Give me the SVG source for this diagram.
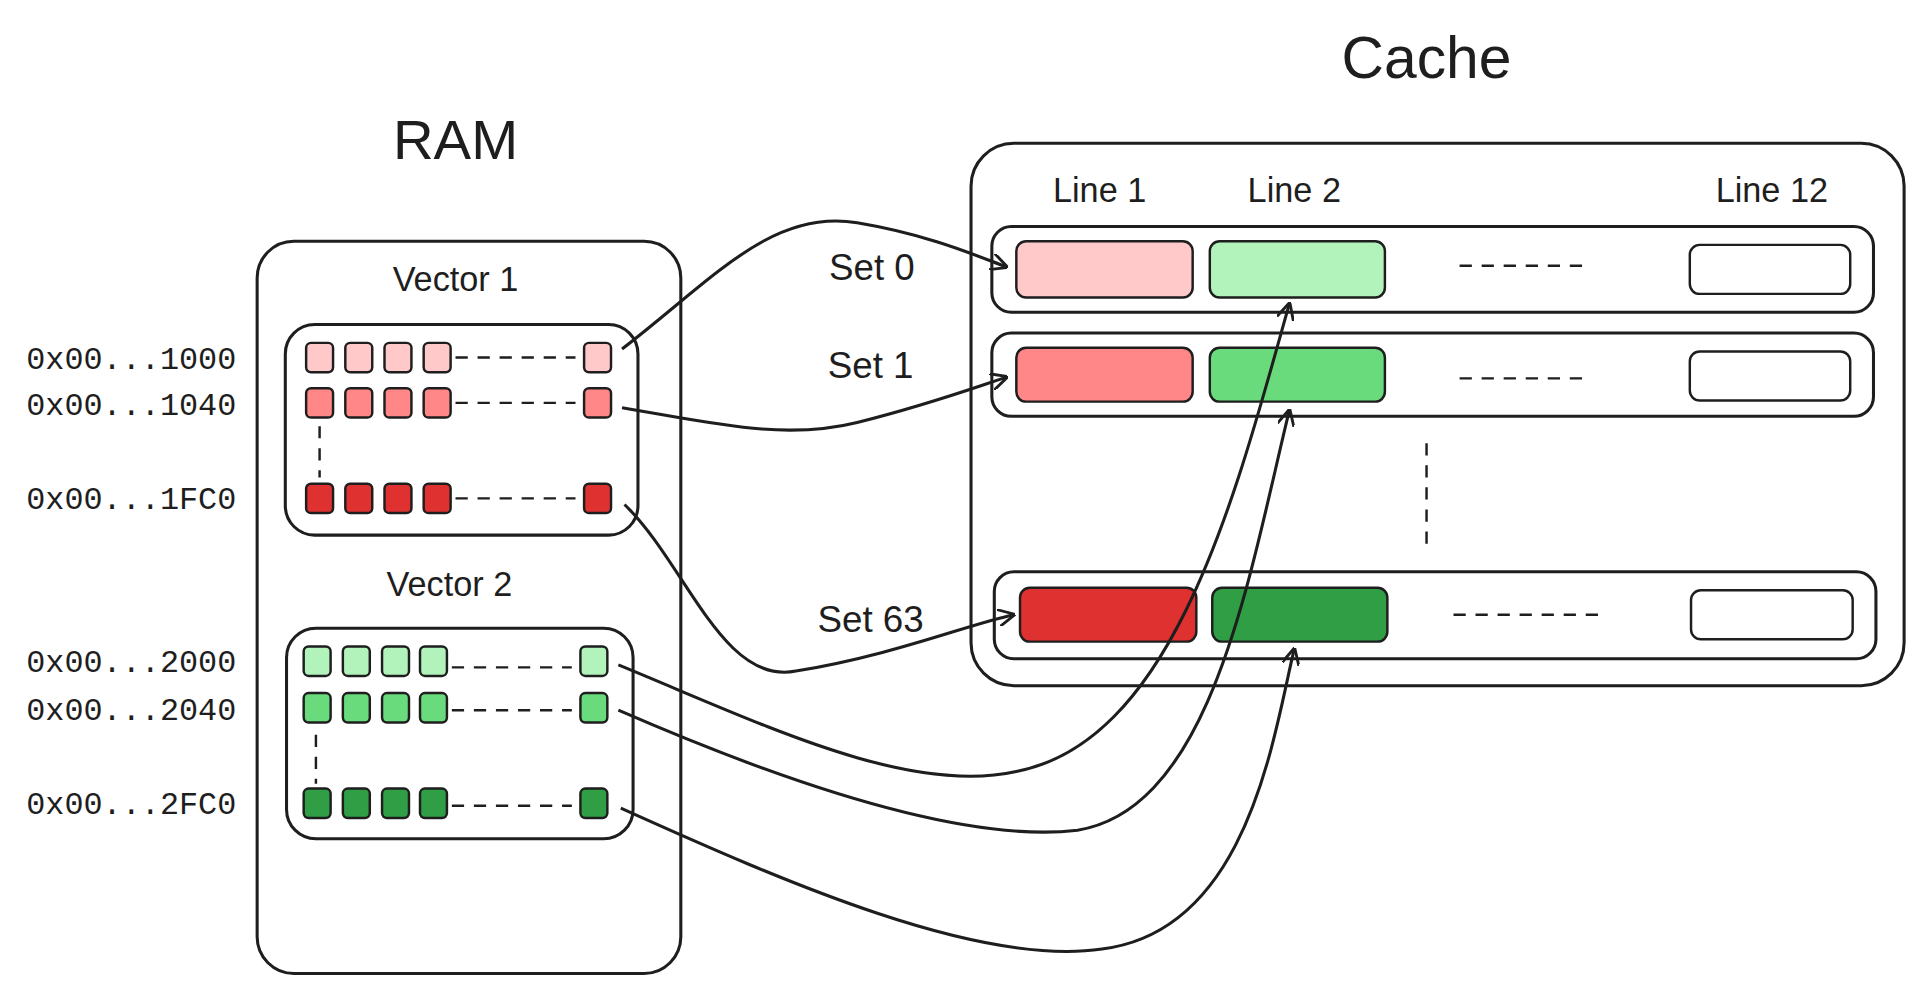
<svg xmlns="http://www.w3.org/2000/svg" width="1920" height="988" viewBox="0 0 1920 988">
<style>
.b{fill:none;stroke:#1e1e1e;stroke-width:2.5}
.t{font-family:"Liberation Sans",sans-serif;fill:#1e1e1e;text-anchor:middle}
.a{font-family:"Liberation Mono",monospace;fill:#1e1e1e;text-anchor:end;font-size:26px}
.c{stroke:#1e1e1e;stroke-width:2}
.d{stroke:#1e1e1e;stroke-width:2;stroke-dasharray:10 8}
.l{fill:none;stroke:#1e1e1e;stroke-width:2.5}
.p1{fill:#ffc9c9}.p2{fill:#ff8787}.p3{fill:#e03131}.g1{fill:#b2f2bb}.g2{fill:#69db7c}.g3{fill:#2f9e44}.w{fill:#fff}
</style>
<defs>
<marker id="ar" viewBox="0 0 12 12" refX="11" refY="6" markerWidth="14" markerHeight="14" markerUnits="userSpaceOnUse" orient="auto"><path d="M0,0 L12,6 L0,12" fill="none" stroke="#1e1e1e" stroke-width="2"/></marker>
<symbol id="sq" overflow="visible"><rect width="22" height="24" rx="4"/></symbol>
</defs>
<g transform="scale(1.2245)">
<rect width="1568" height="807" fill="#fff"/>
<g id="titles">
<text class="t" x="1165" y="64" font-size="48">Cache</text>
<text class="t" x="372" y="130" font-size="46">RAM</text>
</g>
<g id="ram">
<rect class="b" x="210" y="197" width="346" height="598" rx="30"/>
<text class="t" x="372" y="238" font-size="28">Vector 1</text>
<text class="t" x="367" y="487" font-size="28">Vector 2</text>
</g>
<g id="vector1">
<rect class="b" x="233" y="265" width="288" height="172" rx="24"/>
<g class="p1" stroke="#1e1e1e" stroke-width="2"><use href="#sq" x="250" y="280"/><use href="#sq" x="282" y="280"/><use href="#sq" x="314" y="280"/><use href="#sq" x="346" y="280"/><use href="#sq" x="477" y="280"/></g>
<g class="p2" stroke="#1e1e1e" stroke-width="2"><use href="#sq" x="250" y="317"/><use href="#sq" x="282" y="317"/><use href="#sq" x="314" y="317"/><use href="#sq" x="346" y="317"/><use href="#sq" x="477" y="317"/></g>
<g class="p3" stroke="#1e1e1e" stroke-width="2"><use href="#sq" x="250" y="395"/><use href="#sq" x="282" y="395"/><use href="#sq" x="314" y="395"/><use href="#sq" x="346" y="395"/><use href="#sq" x="477" y="395"/></g>
<line class="d" x1="372" y1="292" x2="470" y2="292"/><line class="d" x1="372" y1="329" x2="470" y2="329"/><line class="d" x1="372" y1="407" x2="470" y2="407"/>
<line class="d" x1="261" y1="348" x2="261" y2="390"/>
</g>
<g id="vector2">
<rect class="b" x="234" y="513" width="283" height="172" rx="24"/>
<g class="g1" stroke="#1e1e1e" stroke-width="2"><use href="#sq" x="248" y="528"/><use href="#sq" x="280" y="528"/><use href="#sq" x="312" y="528"/><use href="#sq" x="343" y="528"/><use href="#sq" x="474" y="528"/></g>
<g class="g2" stroke="#1e1e1e" stroke-width="2"><use href="#sq" x="248" y="566"/><use href="#sq" x="280" y="566"/><use href="#sq" x="312" y="566"/><use href="#sq" x="343" y="566"/><use href="#sq" x="474" y="566"/></g>
<g class="g3" stroke="#1e1e1e" stroke-width="2"><use href="#sq" x="248" y="644"/><use href="#sq" x="280" y="644"/><use href="#sq" x="312" y="644"/><use href="#sq" x="343" y="644"/><use href="#sq" x="474" y="644"/></g>
<line class="d" x1="369" y1="545" x2="467" y2="545"/><line class="d" x1="369" y1="580" x2="467" y2="580"/><line class="d" x1="369" y1="658" x2="467" y2="658"/>
<line class="d" x1="258" y1="600" x2="258" y2="640"/>
</g>
<g id="addresses">
<text class="a" x="193" y="301">0x00...1000</text>
<text class="a" x="193" y="339">0x00...1040</text>
<text class="a" x="193" y="416">0x00...1FC0</text>
<text class="a" x="193" y="549">0x00...2000</text>
<text class="a" x="193" y="588">0x00...2040</text>
<text class="a" x="193" y="665">0x00...2FC0</text>
</g>
<g id="cache">
<rect class="b" x="793" y="117" width="762" height="443" rx="35"/>
<text class="t" x="898" y="165" font-size="28">Line 1</text>
<text class="t" x="1057" y="165" font-size="28">Line 2</text>
<text class="t" x="1447" y="165" font-size="28">Line 12</text>
<line class="d" x1="1165" y1="362" x2="1165" y2="445"/>
</g>
<g id="set0">
<rect class="b" x="810" y="185" width="720" height="70" rx="16"/>
<rect class="p1 c" x="830" y="197" width="144" height="46" rx="8"/>
<rect class="g1 c" x="988" y="197" width="143" height="46" rx="8"/>
<line class="d" x1="1192" y1="217" x2="1295" y2="217"/>
<rect class="w c" x="1380" y="200" width="131" height="40" rx="8"/>
<text class="t" x="712" y="229" font-size="30">Set 0</text>
</g>
<g id="set1">
<rect class="b" x="810" y="272" width="720" height="68" rx="16"/>
<rect class="p2 c" x="830" y="284" width="144" height="44" rx="8"/>
<rect class="g2 c" x="988" y="284" width="143" height="44" rx="8"/>
<line class="d" x1="1192" y1="309" x2="1295" y2="309"/>
<rect class="w c" x="1380" y="287" width="131" height="40" rx="8"/>
<text class="t" x="711" y="309" font-size="30">Set 1</text>
</g>
<g id="set63">
<rect class="b" x="812" y="467" width="720" height="71" rx="16"/>
<rect class="p3 c" x="833" y="480" width="144" height="44" rx="8"/>
<rect class="g3 c" x="990" y="480" width="143" height="44" rx="8"/>
<line class="d" x1="1187" y1="502" x2="1305" y2="502"/>
<rect class="w c" x="1381" y="482" width="132" height="40" rx="8"/>
<text class="t" x="711" y="516" font-size="30">Set 63</text>
</g>
<g id="connectors" marker-end="url(#ar)">
<path class="l" d="M508,285 C580,230 630,170 700,182 C760,192 800,210 822,218"/>
<path class="l" d="M508,333 C580,345 640,360 700,345 C760,330 800,315 822,308"/>
<path class="l" d="M510,412 C560,460 590,560 650,548 C730,535 790,510 828,502"/>
<path class="l" d="M505,543 C620,590 740,650 830,630 C960,605 1010,400 1053,248"/>
<path class="l" d="M505,580 C620,630 780,690 880,678 C990,660 1020,470 1053,335"/>
<path class="l" d="M507,660 C640,720 800,790 900,775 C1020,760 1040,600 1057,530"/>
</g>
</g>
</svg>
